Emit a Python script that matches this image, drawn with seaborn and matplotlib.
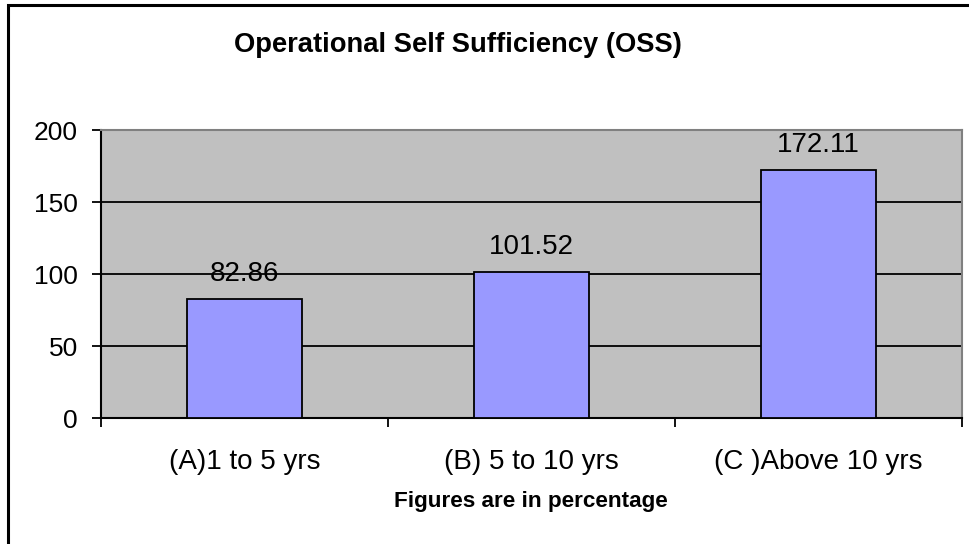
import pandas as pd
import seaborn as sns
import matplotlib.pyplot as plt
from matplotlib.patches import Rectangle

categories = ['(A)1 to 5 yrs', '(B) 5 to 10 yrs', '(C )Above 10 yrs']
oss_values = [82.86, 101.52, 172.11]
y_ticks = [0, 50, 100, 150, 200]

df = pd.DataFrame({'group': categories, 'oss': oss_values})

sns.set_style('white')
plt.rcParams['font.family'] = ['Liberation Sans', 'DejaVu Sans']
plt.rcParams['text.color'] = 'black'
plt.rcParams['xtick.color'] = 'black'
plt.rcParams['ytick.color'] = 'black'

fig = plt.figure(figsize=(9.7, 5.44), dpi=100)
ax = fig.add_axes([101 / 970, 1 - 418 / 544, 861 / 970, 288 / 544])

sns.barplot(data=df, x='group', y='oss', color='#9999FF', width=0.404,
            edgecolor='black', linewidth=1.3, saturation=1, ax=ax, zorder=3)

ax.set_facecolor('#C0C0C0')
ax.set_ylim(0, 200)
ax.set_xlim(-0.5, 2.5)
ax.set_yticks(y_ticks)
ax.set_yticklabels([str(v) for v in y_ticks], fontsize=19)
ax.yaxis.grid(True, color='black', linewidth=1.3, zorder=1)
ax.set_axisbelow(True)

# Excel-style: ticks between categories, labels centred under the bars
ax.set_xticks([-0.5, 0.5, 1.5, 2.5])
ax.set_xticklabels([])
ax.set_xticks([0, 1, 2], minor=True)
ax.set_xticklabels(categories, minor=True, fontsize=20)
ax.tick_params(axis='x', which='minor', length=0, pad=22)
ax.tick_params(axis='both', which='major', direction='out', length=6.5,
               width=1.3, color='black', left=True, bottom=True)
ax.tick_params(axis='y', pad=10)
ax.set_xlabel('')
ax.set_ylabel('')

for side in ['left', 'bottom']:
    ax.spines[side].set_color('black')
    ax.spines[side].set_linewidth(1.5)
for side in ['top', 'right']:
    ax.spines[side].set_color('#808080')
    ax.spines[side].set_linewidth(1.5)

for i, v in enumerate(oss_values):
    ax.annotate(f'{v:.2f}', (i, v), xytext=(0, 8.5), textcoords='offset points',
                ha='center', va='bottom', fontsize=20, zorder=4)

fig.text(458 / 970, 1 - 45 / 544, 'Operational Self Sufficiency (OSS)',
         ha='center', va='center', fontsize=19.7, fontweight='bold')
fig.text(531 / 970, 1 - 502 / 544, 'Figures are in percentage',
         ha='center', va='center', fontsize=16.2, fontweight='bold')

fig.patches.append(Rectangle((8.5 / 970, -0.1), 2, 1.1 - 5.5 / 544,
                             transform=fig.transFigure, fill=False,
                             edgecolor='black', linewidth=2.2))

plt.savefig('out.png', dpi=100)
